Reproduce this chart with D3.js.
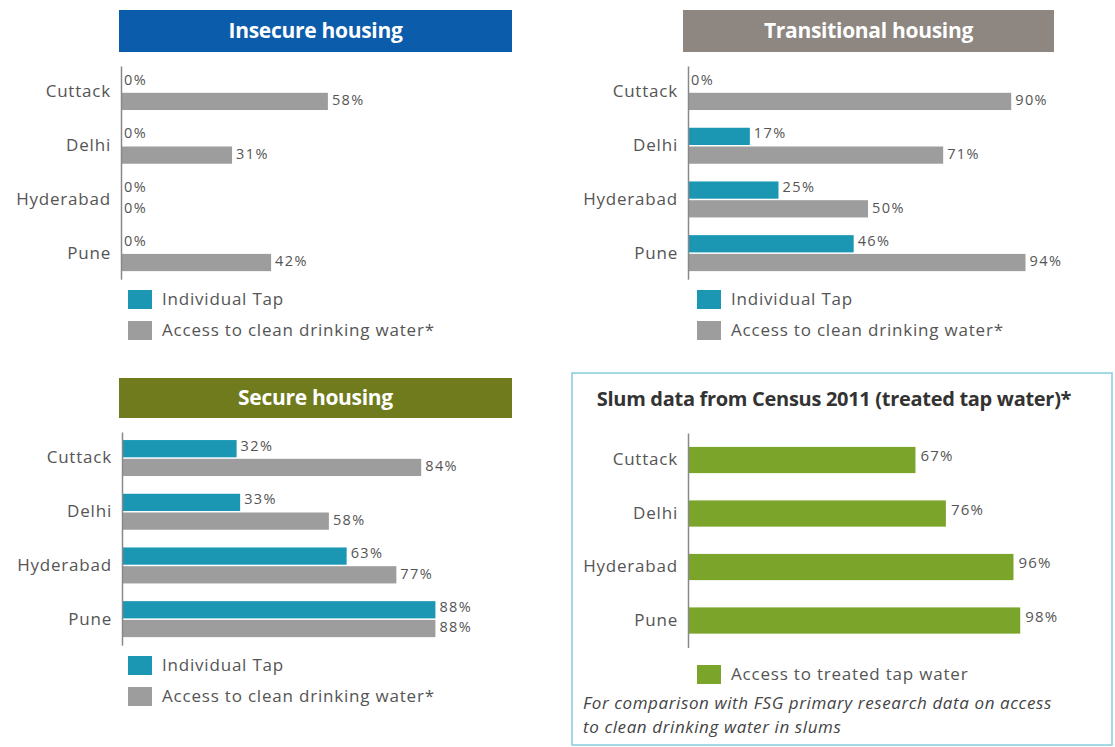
<!DOCTYPE html>
<html>
<head>
<meta charset="utf-8">
<script src="https://cdn.jsdelivr.net/npm/d3@7"></script>
<style>
  body { margin: 0; background: #fff; }
  text { font-family: "Open Sans", "Noto Sans", sans-serif; }
</style>
</head>
<body>
<div class="chart"></div>
<script>
// water access in slums, 4 small bar charts

const width = 1115
const height = 747

const cities = ['Cuttack', 'Delhi', 'Hyderabad', 'Pune']
const seriesNames = ['Individual Tap', 'Access to clean drinking water*']

const insecureTap = [0, 0, 0, 0]
const insecureClean = [58, 31, 0, 42]
const transitionalTap = [0, 17, 25, 46]
const transitionalClean = [90, 71, 50, 94]
const secureTap = [32, 33, 63, 88]
const secureClean = [84, 58, 77, 88]
const censusTreated = [67, 76, 96, 98]

const tapColor = '#1b97b4'
const cleanColor = '#9d9d9d'
const greenColor = '#7ba42a'
const labelColor = '#555'

const svg = d3.select('.chart')
  .append('svg')
  .attr('width', width)
  .attr('height', height)
  .attr('viewBox', [0, 0, width, height])

function header(x0, x1, y0, y1, fill, title) {
  svg.append('rect')
    .attr('x', x0).attr('y', y0)
    .attr('width', x1 - x0).attr('height', y1 - y0)
    .attr('fill', fill)
  svg.append('text')
    .attr('x', (x0 + x1) / 2).attr('y', (y0 + y1) / 2 + 1)
    .attr('text-anchor', 'middle')
    .attr('dominant-baseline', 'middle')
    .attr('fill', '#fff')
    .style('font-size', '21px')
    .style('font-weight', 'bold')
    .style('letter-spacing', '-0.3px')
    .text(title)
}

// panel with two bars per city
function pairPanel(axisX, top, tap, clean, pxPerPct) {
  const x = d3.scaleLinear().domain([0, 100]).range([axisX + 1, axisX + 1 + 100 * pxPerPct])
  const step = 53.7
  const y = d3.scaleBand()
    .domain(cities)
    .range([top, top + step * (4 - 0.33 + 0.3)])
    .paddingInner(0.33)
    .paddingOuter(0.15)
    .align(0.5)
  const ySub = d3.scaleBand()
    .domain(['tap', 'clean'])
    .range([0, y.bandwidth()])
    .paddingInner(0.08)

  const rows = cities.map((c, i) => ({city: c, tap: tap[i], clean: clean[i]}))
  const g = svg.append('g')

  rows.forEach(r => {
    ;['tap', 'clean'].forEach(k => {
      const yy = y(r.city) + ySub(k)
      g.append('rect')
        .attr('x', x(0)).attr('y', yy)
        .attr('width', x(r[k]) - x(0))
        .attr('height', ySub.bandwidth())
        .attr('fill', k == 'tap' ? tapColor : cleanColor)
      g.append('text')
        .attr('x', x(r[k]) + (r[k] > 0 ? 4 : 2))
        .attr('y', yy + ySub.bandwidth() / 2 + (k == 'tap' ? -2 : 0))
        .attr('dominant-baseline', 'middle')
        .attr('fill', labelColor)
        .style('font-size', '14.5px')
        .style('letter-spacing', '1.4px')
        .text(r[k] + '%')
    })
  })

  const axis = d3.axisLeft(y).tickSize(0).tickPadding(10)
  const ag = g.append('g').attr('transform', `translate(${axisX},0)`).call(axis)
  ag.select('.domain').attr('stroke', '#888').attr('stroke-width', 1.5)
  ag.selectAll('text')
    .style('font-size', '17px')
    .style('letter-spacing', '0.8px')
    .attr('fill', labelColor)
}

function legend(x0, y0, items) {
  items.forEach((it, i) => {
    svg.append('rect')
      .attr('x', x0).attr('y', y0 + i * 31)
      .attr('width', 24).attr('height', 19)
      .attr('fill', it.color)
    svg.append('text')
      .attr('x', x0 + 34).attr('y', y0 + i * 31 + 10)
      .attr('dominant-baseline', 'middle')
      .attr('fill', labelColor)
      .style('font-size', '17px')
      .style('letter-spacing', '0.8px')
      .text(it.name)
  })
}

const legendItems = [
  {name: seriesNames[0], color: tapColor},
  {name: seriesNames[1], color: cleanColor}
]

// top left
header(119, 512, 10, 52, '#0b5caa', 'Insecure housing')
pairPanel(121, 66, insecureTap, insecureClean, 3.55)
legend(128, 290, legendItems)

// top right
header(683, 1054, 10, 52, '#8e8680', 'Transitional housing')
pairPanel(688, 66, transitionalTap, transitionalClean, 3.58)
legend(697, 290, legendItems)

// bottom left
header(119, 512, 378, 418, '#6f7b1c', 'Secure housing')
pairPanel(122, 432, secureTap, secureClean, 3.55)
legend(128, 656, legendItems)

// bottom right: census box
svg.append('rect')
  .attr('x', 572).attr('y', 373)
  .attr('width', 540).attr('height', 372)
  .attr('fill', 'none')
  .attr('stroke', '#86cbdc')
  .attr('stroke-width', 1.5)

svg.append('text')
  .attr('x', 834).attr('y', 401)
  .attr('text-anchor', 'middle')
  .attr('dominant-baseline', 'middle')
  .attr('fill', '#333')
  .style('font-size', '20px')
  .style('font-weight', 'bold')
  .style('letter-spacing', '-0.3px')
  .text('Slum data from Census 2011 (treated tap water)*')

const xC = d3.scaleLinear().domain([0, 100]).range([689, 689 + 100 * 3.38])
const yC = d3.scaleBand()
  .domain(cities)
  .range([433, 433 + 53.5 * (4 - 0.51 + 0.52)])
  .paddingInner(0.51)
  .paddingOuter(0.26)

const cg = svg.append('g')
cg.selectAll('rect')
  .data(censusTreated)
  .join('rect')
  .attr('x', xC(0))
  .attr('y', (d, i) => yC(cities[i]))
  .attr('width', d => xC(d) - xC(0))
  .attr('height', yC.bandwidth())
  .attr('fill', greenColor)
cg.selectAll('text.val')
  .data(censusTreated)
  .join('text')
  .attr('class', 'val')
  .attr('x', d => xC(d) + 5)
  .attr('y', (d, i) => yC(cities[i]) + yC.bandwidth() / 2 - 3)
  .attr('dominant-baseline', 'middle')
  .attr('fill', labelColor)
  .style('font-size', '15px')
  .style('letter-spacing', '1.2px')
  .text(d => d + '%')

const cAxis = cg.append('g').attr('transform', 'translate(688,0)')
  .call(d3.axisLeft(yC).tickSize(0).tickPadding(10))
cAxis.select('.domain').attr('stroke', '#888').attr('stroke-width', 1.5)
cAxis.selectAll('text')
  .style('font-size', '17px')
  .style('letter-spacing', '0.8px')
  .attr('fill', labelColor)

legend(697, 665, [{name: 'Access to treated tap water', color: greenColor}])

const notes = ['For comparison with FSG primary research data on access',
  'to clean drinking water in slums']
svg.selectAll('text.note')
  .data(notes)
  .join('text')
  .attr('class', 'note')
  .attr('x', 583)
  .attr('y', (d, i) => 709 + i * 24)
  .attr('fill', '#444')
  .style('font-size', '17px')
  .style('font-style', 'italic')
  .style('letter-spacing', '0.6px')
  .text(d => d)
</script>
</body>
</html>
